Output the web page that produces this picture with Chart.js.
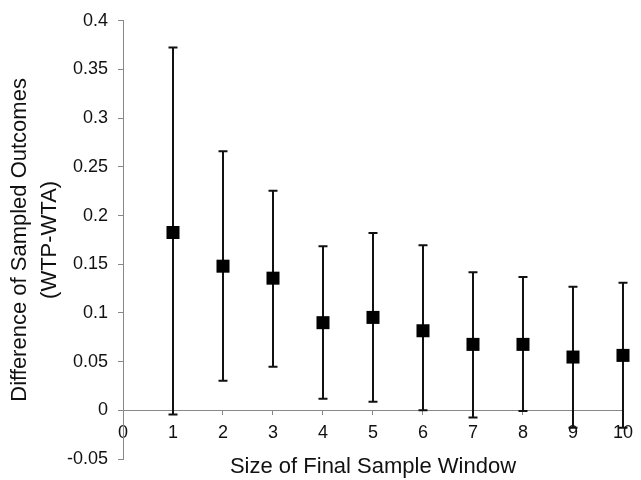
<!DOCTYPE html>
<html>
<head>
<meta charset="utf-8">
<script src="https://cdn.jsdelivr.net/npm/chart.js@4/dist/chart.umd.min.js"></script>
<style>
  html, body { margin: 0; padding: 0; background: #ffffff; }
  #wrap { width: 641px; height: 480px; }
</style>
</head>
<body>
<div id="wrap"><canvas id="c" width="641" height="480"></canvas></div>
<script>
// ---- data ----
const windowSizes = [1, 2, 3, 4, 5, 6, 7, 8, 9, 10];
const meanDiff    = [0.1826, 0.148, 0.1357, 0.090, 0.0954, 0.0817, 0.0677, 0.0677, 0.0547, 0.0564];
const upperBound  = [0.3726, 0.266, 0.2256, 0.1685, 0.1822, 0.1696, 0.1419, 0.137, 0.1268, 0.131];
const lowerBound  = [-0.0044, 0.0304, 0.0448, 0.012, 0.0089, 0.0, -0.0075, -0.0007, -0.018, -0.018];
const yTitle = ['Difference of Sampled Outcomes', '(WTP-WTA)'];
const xTitle = 'Size of Final Sample Window';

const points = windowSizes.map((s, i) => ({ x: s, y: meanDiff[i] }));

const errorBars = {
  id: 'errorBars',
  beforeDatasetsDraw(chart) {
    const { ctx } = chart;
    const xs = chart.scales.x, ys = chart.scales.y;
    ctx.save();
    ctx.strokeStyle = '#111111';
    ctx.lineWidth = 2;
    windowSizes.forEach((s, i) => {
      const px = xs.getPixelForValue(s);
      const top = ys.getPixelForValue(upperBound[i]);
      const bot = ys.getPixelForValue(lowerBound[i]);
      ctx.beginPath();
      ctx.moveTo(px, top); ctx.lineTo(px, bot);
      ctx.moveTo(px - 4.5, top); ctx.lineTo(px + 4.5, top);
      ctx.moveTo(px - 4.5, bot); ctx.lineTo(px + 4.5, bot);
      ctx.stroke();
    });
    ctx.restore();
  }
};

const fontFamily = '"Liberation Sans", Arial, sans-serif';
const axisGray = '#888888';

new Chart(document.getElementById('c'), {
  type: 'scatter',
  data: {
    datasets: [{
      data: points,
      pointStyle: 'rect',
      pointRadius: 9.2,
      pointHoverRadius: 9.2,
      backgroundColor: '#000000',
      borderColor: '#000000',
      borderWidth: 0,
      showLine: false,
      clip: false
    }]
  },
  options: {
    responsive: false,
    animation: false,
    layout: { padding: { top: 20, right: 10, bottom: 0, left: 0 } },
    plugins: { legend: { display: false }, tooltip: { enabled: false } },
    scales: {
      x: {
        type: 'linear',
        position: { y: 0 },
        min: 0, max: 10,
        ticks: {
          stepSize: 1, padding: 8, color: '#111111',
          font: { family: fontFamily, size: 18 },
          maxRotation: 0, autoSkip: false
        },
        grid: { drawOnChartArea: false, drawTicks: true, tickLength: 4, color: axisGray, lineWidth: 1 },
        border: { display: true, color: axisGray, width: 1 }
      },
      x2: {
        type: 'linear',
        position: 'bottom',
        min: 0, max: 10,
        ticks: { display: false },
        grid: { display: false, drawTicks: false },
        border: { display: false },
        title: {
          display: true, text: xTitle, color: '#111111',
          font: { family: fontFamily, size: 22, lineHeight: 1.2 },
          padding: 0
        },
        afterFit(scale) { scale.height = 21; }
      },
      y: {
        type: 'linear',
        position: 'left',
        min: -0.05, max: 0.4,
        ticks: {
          stepSize: 0.05, padding: 10, color: '#111111',
          font: { family: fontFamily, size: 18 },
          callback: (v) => String(parseFloat(Number(v).toFixed(2)))
        },
        grid: { drawOnChartArea: false, drawTicks: true, tickLength: 5, color: axisGray, lineWidth: 1 },
        border: { display: true, color: axisGray, width: 1 },
        title: {
          display: true, text: yTitle, color: '#111111',
          font: { family: fontFamily, size: 22, lineHeight: 1.35 },
          padding: { top: 5, bottom: 0 }
        },
        afterFit(scale) { scale.width = 123; }
      }
    }
  },
  plugins: [errorBars]
});
</script>
</body>
</html>
